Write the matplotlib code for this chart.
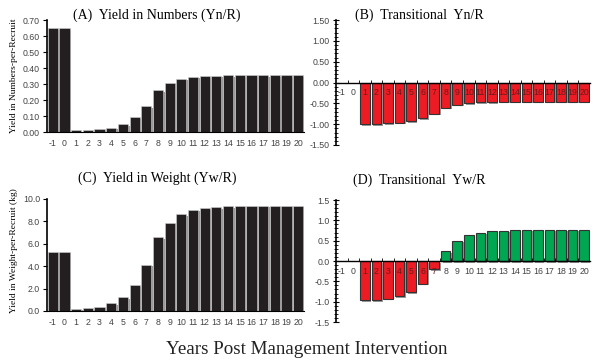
import matplotlib
matplotlib.use("Agg")
import matplotlib.pyplot as plt
import matplotlib.patheffects as pe
import numpy as np

# years after the management intervention
years = [-1, 0, 1, 2, 3, 4, 5, 6, 7, 8, 9, 10, 11, 12, 13, 14, 15, 16, 17, 18, 19, 20]

# (A) yield in numbers per recruit
yn = [0.65, 0.65, 0.010, 0.010, 0.017, 0.028, 0.050, 0.093, 0.163, 0.262, 0.308,
      0.333, 0.345, 0.348, 0.352, 0.355, 0.355, 0.355, 0.355, 0.355, 0.355, 0.355]

# (B) transitional Yn/R
tyn = [0.0, 0.0, -1.00, -1.00, -0.98, -0.96, -0.92, -0.86, -0.75, -0.60, -0.53,
       -0.49, -0.47, -0.47, -0.46, -0.46, -0.46, -0.46, -0.46, -0.46, -0.46, -0.46]

# (C) yield in weight per recruit (kg)
yw = [5.3, 5.3, 0.20, 0.25, 0.40, 0.70, 1.25, 2.30, 4.15, 6.60, 7.90,
      8.65, 9.05, 9.20, 9.30, 9.35, 9.40, 9.40, 9.40, 9.40, 9.40, 9.40]

# (D) transitional Yw/R
tyw = [0.0, 0.0, -0.97, -0.96, -0.93, -0.87, -0.77, -0.56, -0.20, 0.24, 0.50,
       0.63, 0.70, 0.73, 0.75, 0.76, 0.77, 0.77, 0.77, 0.77, 0.77, 0.77]

W, H = 593, 360
serif = "Liberation Serif"
sans = "Liberation Sans"
tick_col = "#444444"
shadow = [pe.SimplePatchShadow(offset=(1.2, -1.2), shadow_rgbFace="#9a9a9a", alpha=1.0), pe.Normal()]


def box(l, t, r, b):
    return [l / W, 1 - b / H, (r - l) / W, (b - t) / H]


def plotYield(ax, vals, ymax, step, fmt):
    x = np.arange(len(years))
    bars = ax.bar(x, vals, width=0.87, color="#231f20", edgecolor="#d0d0d0", linewidth=0.4, zorder=0.5)
    for b in bars:
        b.set_path_effects(shadow)
    ax.set_xlim(-0.5, len(years) - 0.5)
    ax.set_ylim(0, ymax)
    ax.set_xticks(x)
    ax.set_xticklabels([str(y) for y in years])
    ax.set_yticks(np.arange(0, ymax + step / 2, step))
    ax.set_yticklabels([fmt % v for v in np.arange(0, ymax + step / 2, step)])
    ax.tick_params(axis="x", length=0, pad=5, labelsize=6.3, labelcolor=tick_col)
    ax.tick_params(axis="y", length=3, width=0.8, direction="out", pad=2, labelsize=6.3, labelcolor=tick_col)
    for s in ["top", "right"]:
        ax.spines[s].set_visible(False)
    ax.spines["left"].set_linewidth(1.2)
    ax.spines["bottom"].set_linewidth(0.8)
    for lab in ax.get_xticklabels() + ax.get_yticklabels():
        lab.set_family(sans)


def plotTrans(ax, vals, lim, step, fmt):
    x = np.arange(len(years))
    cols = ["#ed1c24" if v < 0 else "#00a651" for v in vals]
    bars = ax.bar(x, vals, width=0.82, color=cols, edgecolor="#333333", linewidth=0.8, zorder=0.5)
    for b, v in zip(bars, vals):
        if v != 0:
            b.set_path_effects(shadow)
        else:
            b.set_visible(False)
    ax.set_xlim(-0.5, len(years) - 0.5)
    ax.set_ylim(-lim, lim)
    ticks = np.arange(-lim, lim + step / 2, step)
    ax.set_yticks(ticks)
    ax.set_yticklabels([fmt % v for v in ticks])
    ax.set_yticks(np.arange(-lim, lim + 0.05, 0.1), minor=True)
    ax.set_xticks(x)
    ax.set_xticklabels([str(y) for y in years])
    ax.set_xticks(x[:-1] + 0.5, minor=True)
    ax.spines["bottom"].set_position(("data", 0))
    for s in ["top", "right"]:
        ax.spines[s].set_visible(False)
    ax.spines["left"].set_linewidth(1.2)
    ax.spines["bottom"].set_linewidth(1.0)
    ax.tick_params(axis="x", which="major", length=0, pad=4, labelsize=6.3, labelcolor=tick_col)
    ax.tick_params(axis="x", which="minor", length=2, width=0.6, direction="in")
    ax.tick_params(axis="y", which="major", length=5, width=0.8, direction="inout", pad=2, labelsize=6.3, labelcolor=tick_col)
    ax.tick_params(axis="y", which="minor", length=2.5, width=0.6, direction="inout")
    for lab in ax.get_xticklabels() + ax.get_yticklabels():
        lab.set_family(sans)
    for lab, v in zip(ax.get_xticklabels(), vals):
        if v < 0:
            lab.set_color("#6b1a1a")


fig = plt.figure(figsize=(W / 100, H / 100), dpi=100)

axA = fig.add_axes(box(47, 20, 304, 132))
plotYield(axA, yn, 0.70, 0.10, "%.2f")
axB = fig.add_axes(box(336, 20, 590, 145))
plotTrans(axB, tyn, 1.5, 0.5, "%.2f")
axC = fig.add_axes(box(47, 199, 304, 311))
plotYield(axC, yw, 10.0, 2.0, "%.1f")
axD = fig.add_axes(box(336, 200, 590, 322))
plotTrans(axD, tyw, 1.5, 0.5, "%.1f")

# panel titles
fig.text(73 / W, 1 - 15 / H, "(A)  Yield in Numbers (Yn/R)", family=serif, fontsize=10, va="center")
fig.text(355 / W, 1 - 15 / H, "(B)  Transitional  Yn/R", family=serif, fontsize=10, va="center")
fig.text(78 / W, 1 - 178 / H, "(C)  Yield in Weight (Yw/R)", family=serif, fontsize=10, va="center")
fig.text(353 / W, 1 - 180 / H, "(D)  Transitional  Yw/R", family=serif, fontsize=10, va="center")

fig.text(14 / W, 1 - 76 / H, "Yield in Numbers-per-Recruit", family=serif, fontsize=6.8,
         rotation=90, ha="center", va="center")
fig.text(14 / W, 1 - 251 / H, "Yield in Weight-per-Recruit (kg)", family=serif, fontsize=6.8,
         rotation=90, ha="center", va="center")

fig.text(307 / W, 1 - 350 / H, "Years Post Management Intervention", family=serif, fontsize=13.7,
         ha="center", va="center", color="#222222")

plt.savefig("out.png", dpi=100)
